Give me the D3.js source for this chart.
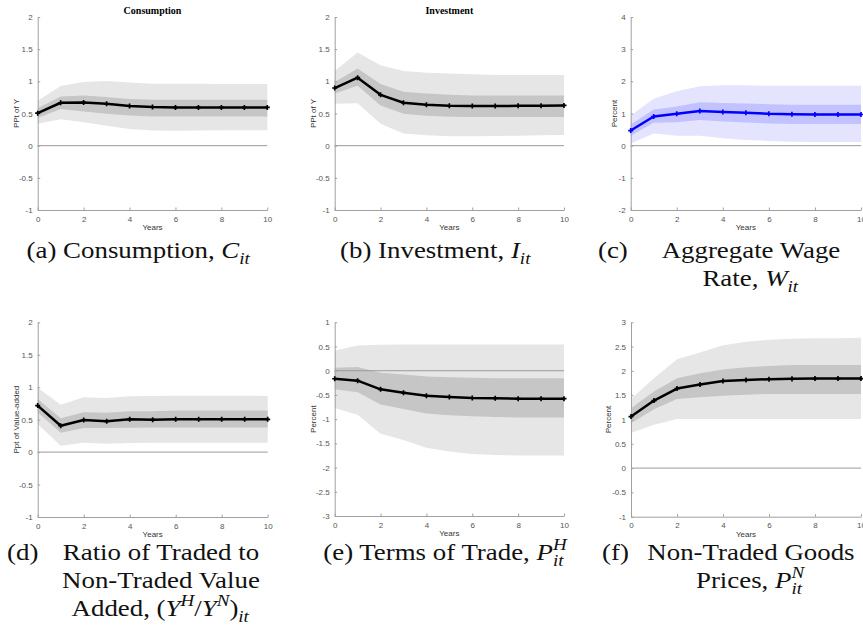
<!DOCTYPE html>
<html>
<head>
<meta charset="utf-8">
<script src="https://cdn.jsdelivr.net/npm/d3@7"></script>
<style>
  body { margin: 0; background: #fff; }
  svg { display: block; }
  .cap { font-family: "Liberation Serif", "Times New Roman", serif; }
</style>
</head>
<body>
<div id="chart"></div>
<script>
// Horizon (years) and x ticks shared by every panel
const years = [0, 1, 2, 3, 4, 5, 6, 7, 8, 9, 10];
const xTicks = [0, 2, 4, 6, 8, 10];

// (a) Consumption
const consMean = [0.505, 0.667, 0.672, 0.651, 0.615, 0.600, 0.594, 0.594, 0.594, 0.595, 0.595];
const consInnerHi = [0.58, 0.765, 0.78, 0.755, 0.725, 0.715, 0.715, 0.715, 0.715, 0.715, 0.715];
const consInnerLo = [0.43, 0.57, 0.53, 0.495, 0.47, 0.455, 0.455, 0.455, 0.455, 0.455, 0.455];
const consOuterHi = [0.70, 0.927, 0.99, 1.005, 0.98, 0.963, 0.963, 0.962, 0.96, 0.96, 0.96];
const consOuterLo = [0.34, 0.41, 0.365, 0.31, 0.26, 0.234, 0.23, 0.235, 0.24, 0.24, 0.24];

// (b) Investment
const invMean = [0.896, 1.057, 0.79, 0.667, 0.635, 0.62, 0.615, 0.615, 0.62, 0.62, 0.625];
const invInnerHi = [0.99, 1.2, 0.96, 0.84, 0.81, 0.79, 0.78, 0.78, 0.78, 0.78, 0.78];
const invInnerLo = [0.81, 0.93, 0.625, 0.495, 0.465, 0.45, 0.445, 0.445, 0.445, 0.445, 0.445];
const invOuterHi = [1.16, 1.45, 1.25, 1.16, 1.135, 1.12, 1.11, 1.10, 1.10, 1.10, 1.10];
const invOuterLo = [0.65, 0.66, 0.34, 0.19, 0.16, 0.146, 0.146, 0.15, 0.156, 0.16, 0.167];

// (c) Aggregate wage rate
const wageMean = [0.47, 0.906, 0.99, 1.08, 1.05, 1.02, 0.99, 0.98, 0.97, 0.97, 0.97];
const wageInnerHi = [0.66, 1.125, 1.22, 1.35, 1.33, 1.31, 1.29, 1.27, 1.27, 1.27, 1.27];
const wageInnerLo = [0.31, 0.71, 0.73, 0.80, 0.75, 0.72, 0.69, 0.67, 0.67, 0.67, 0.67];
const wageOuterHi = [0.94, 1.46, 1.69, 1.85, 1.875, 1.875, 1.86, 1.86, 1.86, 1.86, 1.86];
const wageOuterLo = [0.07, 0.375, 0.31, 0.31, 0.23, 0.18, 0.146, 0.125, 0.115, 0.115, 0.115];

// (d) Ratio of traded to non-traded value added
const ratioMean = [0.717, 0.407, 0.495, 0.474, 0.505, 0.50, 0.505, 0.505, 0.505, 0.505, 0.505];
const ratioInnerHi = [0.82, 0.52, 0.613, 0.608, 0.63, 0.63, 0.64, 0.64, 0.64, 0.64, 0.64];
const ratioInnerLo = [0.613, 0.30, 0.37, 0.37, 0.376, 0.38, 0.38, 0.38, 0.38, 0.38, 0.38];
const ratioOuterHi = [0.99, 0.73, 0.845, 0.835, 0.86, 0.866, 0.87, 0.87, 0.87, 0.87, 0.866];
const ratioOuterLo = [0.433, 0.098, 0.144, 0.13, 0.14, 0.144, 0.144, 0.144, 0.144, 0.144, 0.144];

// (e) Terms of trade
const totMean = [-0.165, -0.206, -0.384, -0.453, -0.515, -0.542, -0.563, -0.57, -0.577, -0.577, -0.577];
const totInnerHi = [0.06, 0.075, -0.04, -0.08, -0.12, -0.137, -0.145, -0.155, -0.155, -0.155, -0.155];
const totInnerLo = [-0.384, -0.446, -0.70, -0.79, -0.885, -0.92, -0.94, -0.954, -0.968, -0.968, -0.968];
const totOuterHi = [0.42, 0.52, 0.535, 0.54, 0.54, 0.54, 0.54, 0.54, 0.54, 0.54, 0.54];
const totOuterLo = [-0.77, -0.91, -1.30, -1.43, -1.59, -1.67, -1.72, -1.74, -1.75, -1.75, -1.75];

// (f) Non-traded goods prices
const pnMean = [1.06, 1.39, 1.637, 1.72, 1.79, 1.815, 1.83, 1.836, 1.842, 1.842, 1.842];
const pnInnerHi = [1.23, 1.575, 1.85, 1.95, 2.03, 2.075, 2.10, 2.12, 2.12, 2.12, 2.12];
const pnInnerLo = [0.925, 1.21, 1.42, 1.46, 1.49, 1.507, 1.527, 1.527, 1.527, 1.527, 1.527];
const pnOuterHi = [1.42, 1.85, 2.24, 2.38, 2.53, 2.60, 2.64, 2.66, 2.67, 2.67, 2.68];
const pnOuterLo = [0.72, 0.89, 1.01, 1.01, 1.01, 1.01, 1.01, 1.01, 1.01, 1.01, 1.01];

// y ticks for each panel
const ticksA = [-1, -0.5, 0, 0.5, 1, 1.5, 2];
const ticksC = [-2, -1, 0, 1, 2, 3, 4];
const ticksE = [-3, -2.5, -2, -1.5, -1, -0.5, 0, 0.5, 1];
const ticksF = [-1, -0.5, 0, 0.5, 1, 1.5, 2, 2.5, 3];

const WIDTH = 863;
const HEIGHT = 625;
const SANS = "Liberation Sans, Arial, sans-serif";

const grey = { outer: "#e6e6e6", inner: "#c6c6c6", line: "#000" };
const blue = { outer: "#e4e4ff", inner: "#c2c2ff", line: "#0000ff" };

const panels = [
  {
    box: [37.7, 267.3, 17, 210], domain: [-1, 2], ticks: ticksA, title: "Consumption",
    yLabel: "PPt of Y", labelOffset: 22, colors: grey,
    mean: consMean, innerHi: consInnerHi, innerLo: consInnerLo, outerHi: consOuterHi, outerLo: consOuterLo,
  },
  {
    box: [334.7, 564, 17, 210], domain: [-1, 2], ticks: ticksA, title: "Investment",
    yLabel: "PPt of Y", labelOffset: 22, colors: grey,
    mean: invMean, innerHi: invInnerHi, innerLo: invInnerLo, outerHi: invOuterHi, outerLo: invOuterLo,
  },
  {
    box: [630.7, 861, 17, 210], domain: [-2, 4], ticks: ticksC, title: "",
    yLabel: "Percent", labelOffset: 17, colors: blue,
    mean: wageMean, innerHi: wageInnerHi, innerLo: wageInnerLo, outerHi: wageOuterHi, outerLo: wageOuterLo,
  },
  {
    box: [37.7, 267.7, 322.3, 517], domain: [-1, 2], ticks: ticksA, title: "",
    yLabel: "Ppt of Value-added", labelOffset: 22, colors: grey,
    mean: ratioMean, innerHi: ratioInnerHi, innerLo: ratioInnerLo, outerHi: ratioOuterHi, outerLo: ratioOuterLo,
  },
  {
    box: [334.7, 564, 322.3, 516], domain: [-3, 1], ticks: ticksE, title: "",
    yLabel: "Percent", labelOffset: 22, colors: grey,
    mean: totMean, innerHi: totInnerHi, innerLo: totInnerLo, outerHi: totOuterHi, outerLo: totOuterLo,
  },
  {
    box: [631, 861, 322.3, 516.7], domain: [-1, 3], ticks: ticksF, title: "",
    yLabel: "Percent", labelOffset: 23, colors: grey,
    mean: pnMean, innerHi: pnInnerHi, innerLo: pnInnerLo, outerHi: pnOuterHi, outerLo: pnOuterLo,
  },
];

// Sub-figure captions: each line is a list of [text, kind] segments
const captions = [
  { label: null, lines: [[["(a) Consumption, ", "rm"], ["C", "it"], ["it", "sub"]]], cx: 139, y: 258 },
  { label: null, lines: [[["(b) Investment, ", "rm"], ["I", "it"], ["it", "sub"]]], cx: 436, y: 258 },
  {
    label: "(c)", labelX: 598, cx: 751, y: 258,
    lines: [[["Aggregate Wage", "rm"]], [["Rate, ", "rm"], ["W", "it"], ["it", "sub"]]],
  },
  {
    label: "(d)", labelX: 7, cx: 161, y: 560,
    lines: [
      [["Ratio of Traded to", "rm"]],
      [["Non-Traded Value", "rm"]],
      [["Added, (", "rm"], ["Y", "it"], ["H", "sup"], ["/", "rm"], ["Y", "it"], ["N", "sup"], [")", "rm"], ["it", "sub"]],
    ],
  },
  { label: null, lines: [[["(e) Terms of Trade, ", "rm"], ["P", "it"], ["H", "sup"], ["it", "subUnder"]]], cx: 446, y: 560 },
  {
    label: "(f)", labelX: 602, cx: 751, y: 560,
    lines: [[["Non-Traded Goods", "rm"]], [["Prices, ", "rm"], ["P", "it"], ["N", "sup"], ["it", "subUnder"]]],
  },
];

const svg = d3
  .select("#chart")
  .append("svg")
  .attr("width", WIDTH)
  .attr("height", HEIGHT);

// Draw one impulse-response panel
function drawPanel(p) {
  const [x0, x1, y0, y1] = p.box;
  const x = d3.scaleLinear().domain([0, 10]).range([x0, x1]);
  const y = d3.scaleLinear().domain(p.domain).range([y1, y0]);
  const g = svg.append("g");

  const band = (lo, hi) =>
    d3.area()
      .x((d, i) => x(years[i]))
      .y0((d, i) => y(lo[i]))
      .y1((d, i) => y(hi[i]))(years);

  g.append("path").attr("d", band(p.outerLo, p.outerHi)).attr("fill", p.colors.outer);
  g.append("path").attr("d", band(p.innerLo, p.innerHi)).attr("fill", p.colors.inner);

  // zero reference line
  g.append("line")
    .attr("x1", x(0)).attr("x2", x(10))
    .attr("y1", y(0)).attr("y2", y(0))
    .attr("stroke", "#9a9a9a").attr("stroke-width", 1);

  // axes (MATLAB style: ticks inward, box off)
  const yAxis = d3.axisLeft(y).tickValues(p.ticks).tickFormat((d) => String(d))
    .tickSizeInner(-2.5).tickSizeOuter(0).tickPadding(5);
  const xAxis = d3.axisBottom(x).tickValues(xTicks).tickFormat((d) => String(d))
    .tickSizeInner(-2.5).tickSizeOuter(0).tickPadding(6);

  [g.append("g").attr("transform", `translate(${x0},0)`).call(yAxis),
   g.append("g").attr("transform", `translate(0,${y1})`).call(xAxis)].forEach((ax) => {
    ax.attr("font-family", SANS).attr("font-size", 8);
    ax.select(".domain").attr("stroke", "#a0a0a0");
    ax.selectAll(".tick line").attr("stroke", "#a0a0a0");
    ax.selectAll(".tick text").attr("fill", "#555");
  });

  // mean response
  const line = d3.line().x((d, i) => x(years[i])).y((d) => y(d));
  g.append("path")
    .attr("d", line(p.mean))
    .attr("fill", "none")
    .attr("stroke", p.colors.line)
    .attr("stroke-width", 2.5)
    .attr("stroke-linejoin", "round");

  // '+' markers
  const plus = d3.symbol().type(d3.symbolCross).size(14);
  g.selectAll(".marker")
    .data(p.mean)
    .enter()
    .append("path")
    .attr("class", "marker")
    .attr("d", plus)
    .attr("transform", (d, i) => `translate(${x(years[i])},${y(d)})`)
    .attr("fill", p.colors.line);

  // labels
  g.append("text")
    .attr("x", (x0 + x1) / 2)
    .attr("y", y1 + 20)
    .attr("text-anchor", "middle")
    .attr("fill", "#333")
    .attr("font-family", SANS)
    .attr("font-size", 8)
    .text("Years");

  g.append("text")
    .attr("transform", `translate(${x0 - p.labelOffset},${(y0 + y1) / 2}) rotate(-90)`)
    .attr("text-anchor", "middle")
    .attr("dy", "0.35em")
    .attr("fill", "#333")
    .attr("font-family", SANS)
    .attr("font-size", 8)
    .text(p.yLabel);

  if (p.title) {
    g.append("text")
      .attr("class", "cap")
      .attr("x", (x0 + x1) / 2)
      .attr("y", 14)
      .attr("text-anchor", "middle")
      .attr("font-weight", "bold")
      .attr("font-size", 10)
      .text(p.title);
  }
}

// Build one caption line from segments (roman, italic, super/subscripts)
const CAP_SIZE = 24;
const CAP_STRETCH = 1.12;

function captionLine(segs, cx, baseline, anchor) {
  const t = svg.append("text")
    .attr("class", "cap")
    .attr("font-size", CAP_SIZE)
    .attr("fill", "#111");

  let shift = 0;
  let lastLen = 0;
  segs.forEach(([str, kind]) => {
    const ts = t.append("tspan").text(str);
    let target = 0;
    let dx = 0;
    if (kind === "it") ts.attr("font-style", "italic");
    if (kind === "sup" || kind === "sub" || kind === "subUnder") {
      ts.attr("font-style", "italic").attr("font-size", 17);
      target = kind === "sup" ? -10 : 6;
      if (kind === "subUnder") dx = -lastLen;
    }
    ts.attr("dy", target - shift);
    if (dx) ts.attr("dx", dx);
    shift = target;
    lastLen = ts.node().getComputedTextLength();
  });

  const w = t.node().getBBox().width * CAP_STRETCH;
  const left = anchor === "start" ? cx : cx - w / 2;
  t.attr("transform", `translate(${left},${baseline}) scale(${CAP_STRETCH},1)`);
}

panels.forEach(drawPanel);

captions.forEach((c) => {
  if (c.label) captionLine([[c.label, "rm"]], c.labelX, c.y, "start");
  c.lines.forEach((segs, i) => captionLine(segs, c.cx, c.y + i * 28, "middle"));
});
</script>
</body>
</html>
